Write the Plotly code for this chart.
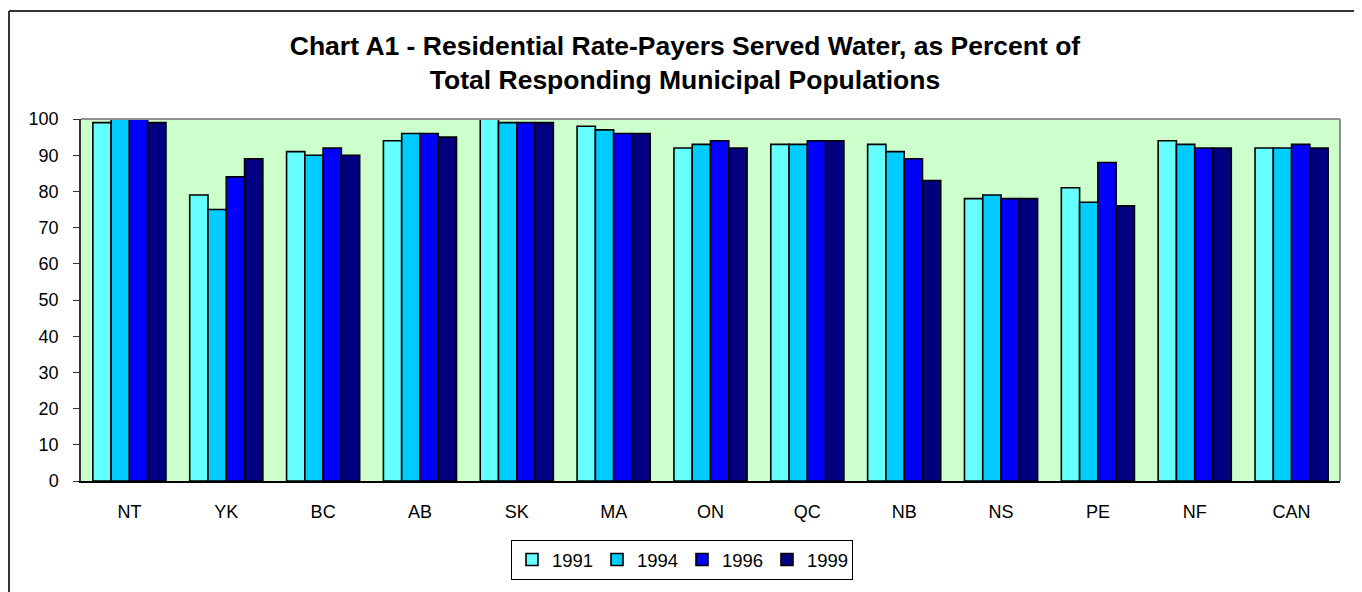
import plotly.graph_objects as go

categories = ["NT", "YK", "BC", "AB", "SK", "MA", "ON", "QC", "NB", "NS", "PE", "NF", "CAN"]
years = ["1991", "1994", "1996", "1999"]
v1991 = [99, 79, 91, 94, 100, 98, 92, 93, 93, 78, 81, 94, 92]
v1994 = [100, 75, 90, 96, 99, 97, 93, 93, 91, 79, 77, 93, 92]
v1996 = [100, 84, 92, 96, 99, 96, 94, 94, 89, 78, 88, 92, 93]
v1999 = [99, 89, 90, 95, 99, 96, 92, 94, 83, 78, 76, 92, 92]
series = [v1991, v1994, v1996, v1999]
colors = ["#66FFFF", "#00CCFF", "#0000FF", "#000080"]
yticks = list(range(0, 101, 10))

fig = go.Figure()
for name, vals, col in zip(years, series, colors):
    fig.add_trace(go.Bar(x=categories, y=vals, name=name,
                         marker=dict(color=col, line=dict(color="black", width=1.6))))

# page has an 8px body margin; figure sized to fit the window
W, H = 1354, 584
L, T = 73, 111
R = W - (1340 - 8)
B = H - (481 - 8)
pw, ph = W - L - R, H - T - B

def px_to_paper_x(px):
    return (px - L) / pw

def px_to_paper_y(py):
    return (H - B - py) / ph

fig.update_layout(
    width=W, height=H,
    margin=dict(l=L, r=R, t=T, b=B, autoexpand=False),
    paper_bgcolor="white",
    plot_bgcolor="#CCFFCC",
    barmode="group", bargap=0.245, bargroupgap=0,
    font=dict(family="Liberation Sans, Arial", color="black", size=18),
    title=dict(text="<b>Chart A1 - Residential Rate-Payers Served Water, as Percent of<br>Total Responding Municipal Populations</b>",
               x=0.5, xanchor="center", xref="container", y=1 - 47 / H, yanchor="middle",
               font=dict(size=26.5, family="Liberation Sans, Arial", color="black")),
    xaxis=dict(showgrid=False, ticks="", showline=True, linecolor="black", linewidth=1.5,
               tickfont=dict(size=18), ticklabelstandoff=14),
    yaxis=dict(range=[0, 100], tickvals=yticks, showgrid=False, ticks="outside", ticklen=6,
               tickcolor="#333333", showline=True, linecolor="#333333", linewidth=1.5,
               tickfont=dict(size=18), zeroline=False, ticklabelstandoff=11),
    legend=dict(orientation="h", x=px_to_paper_x(682 - 8), xanchor="center",
                y=px_to_paper_y(540 - 8), yanchor="top", bordercolor="black", borderwidth=1,
                font=dict(size=18.5), itemwidth=30, traceorder="normal", bgcolor="white",
                entrywidth=40, entrywidthmode="pixels"),
    showlegend=True,
)

# plot area frame (gray top/right)
fig.add_shape(type="line", xref="paper", yref="paper", x0=0, x1=1, y0=1, y1=1,
              line=dict(color="#909090", width=2))
fig.add_shape(type="line", xref="paper", yref="paper", x0=1, x1=1, y0=0, y1=1,
              line=dict(color="#909090", width=2))
# outer chart border (top and left edges of the figure)
fig.add_shape(type="line", xref="paper", yref="paper",
              x0=px_to_paper_x(1), x1=px_to_paper_x(W), y0=px_to_paper_y(3), y1=px_to_paper_y(3),
              line=dict(color="#333333", width=2))
fig.add_shape(type="line", xref="paper", yref="paper",
              x0=px_to_paper_x(1), x1=px_to_paper_x(1), y0=px_to_paper_y(3), y1=px_to_paper_y(H),
              line=dict(color="#333333", width=2))

fig.write_html("out.html")
